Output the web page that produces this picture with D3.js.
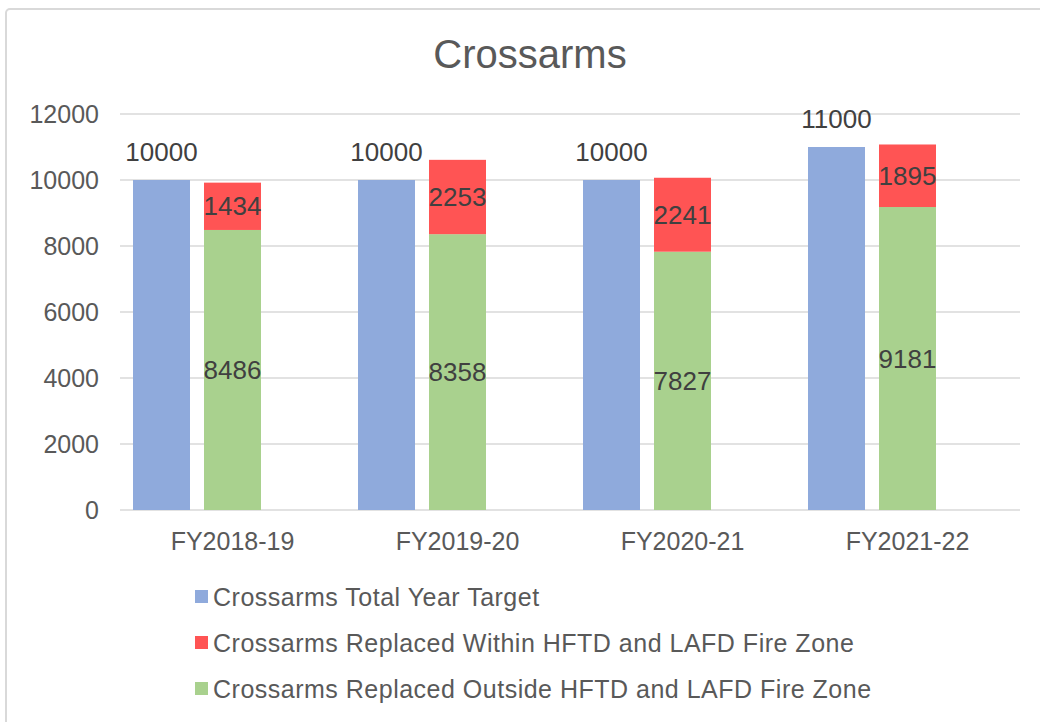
<!DOCTYPE html>
<html>
<head>
<meta charset="utf-8">
<script src="https://cdn.jsdelivr.net/npm/d3@7"></script>
<style>
  html, body { margin: 0; padding: 0; background: #fff; }
  svg { display: block; font-family: "Liberation Sans", Arial, sans-serif; }
</style>
</head>
<body>
<svg id="chart" width="1040" height="722"></svg>
<script>
// Fiscal years on the x axis
const categories = ["FY2018-19", "FY2019-20", "FY2020-21", "FY2021-22"];
// Annual target (standalone bar)
const targetValues = [10000, 10000, 10000, 11000];
// Stacked bar: outside fire zone (bottom) and within fire zone (top)
const outsideValues = [8486, 8358, 7827, 9181];
const withinValues = [1434, 2253, 2241, 1895];
const yTicks = [0, 2000, 4000, 6000, 8000, 10000, 12000];
const seriesNames = [
  "Crossarms Total Year Target",
  "Crossarms Replaced Within HFTD and LAFD Fire Zone",
  "Crossarms Replaced Outside HFTD and LAFD Fire Zone"
];
const colors = ["#8FAADC", "#FF5454", "#A9D18E"];

const svg = d3.select("#chart");
const FONT = "Liberation Sans, Arial, sans-serif";

// Chart frame
svg.append("rect")
  .attr("x", 6).attr("y", 9).attr("width", 1050).attr("height", 720)
  .attr("rx", 4)
  .attr("fill", "#fff").attr("stroke", "#d9d9d9").attr("stroke-width", 2);

svg.append("text")
  .attr("x", 530).attr("y", 68)
  .attr("text-anchor", "middle")
  .attr("font-size", 40).attr("fill", "#595959")
  .text("Crossarms");

const plot = { left: 120, right: 1020, top: 114, bottom: 510 };

const x = d3.scaleBand().domain(categories).range([plot.left, plot.right]);
const y = d3.scaleLinear().domain([0, 12000]).range([plot.bottom, plot.top]);

// Gridlines
svg.append("g")
  .selectAll("line").data(yTicks).join("line")
  .attr("x1", plot.left).attr("x2", plot.right)
  .attr("y1", d => y(d)).attr("y2", d => y(d))
  .attr("stroke", "#d9d9d9").attr("stroke-width", 1.5);

// Y axis labels
const yAxis = d3.axisLeft(y).tickValues(yTicks).tickFormat(d3.format("d")).tickSize(0).tickPadding(0);
const gy = svg.append("g").attr("transform", `translate(${plot.left - 21},0)`).call(yAxis);
gy.select(".domain").remove();
gy.selectAll("text").attr("font-size", 25).attr("fill", "#595959").attr("font-family", FONT);

// X axis labels
const xAxis = d3.axisBottom(x).tickSize(0).tickPadding(0);
const gx = svg.append("g").attr("transform", `translate(0,${plot.bottom + 22})`).call(xAxis);
gx.select(".domain").remove();
gx.selectAll("text").attr("font-size", 25).attr("fill", "#595959").attr("font-family", FONT);

const barW = 57;
const targetOffset = -71;

// Target bars
const center = c => x(c) + x.bandwidth() / 2;
svg.append("g").selectAll("rect").data(categories).join("rect")
  .attr("x", (c) => center(c) + targetOffset - barW / 2)
  .attr("width", barW)
  .attr("y", (c, i) => y(targetValues[i]))
  .attr("height", (c, i) => y(0) - y(targetValues[i]))
  .attr("fill", colors[0]);

// Stacked bars
const stackData = categories.map((c, i) => ({ cat: c, outside: outsideValues[i], within: withinValues[i] }));
const stacked = d3.stack().keys(["outside", "within"])(stackData);
const stackColors = { outside: colors[2], within: colors[1] };

const layers = svg.append("g").selectAll("g").data(stacked).join("g")
  .attr("fill", d => stackColors[d.key]);
layers.selectAll("rect").data(d => d).join("rect")
  .attr("x", d => center(d.data.cat) - barW / 2)
  .attr("width", barW)
  .attr("y", d => y(d[1]))
  .attr("height", d => y(d[0]) - y(d[1]));

const labelStyle = sel => sel.attr("font-size", 26).attr("fill", "#404040")
  .attr("text-anchor", "middle").attr("dominant-baseline", "central");

// Target labels above bars
svg.append("g").selectAll("text").data(categories).join("text")
  .attr("x", c => center(c) + targetOffset)
  .attr("y", (c, i) => y(targetValues[i]) - 28)
  .call(labelStyle)
  .text((c, i) => targetValues[i]);

// Segment labels centred in each segment
stacked.forEach(layer => {
  svg.append("g").selectAll("text").data(layer).join("text")
    .attr("x", d => center(d.data.cat))
    .attr("y", d => (y(d[0]) + y(d[1])) / 2)
    .call(labelStyle)
    .text(d => d[1] - d[0]);
});

// Legend
const legendOrder = [0, 1, 2];
const lg = svg.append("g").selectAll("g").data(legendOrder).join("g")
  .attr("transform", (d, i) => `translate(195,${597 + i * 46})`);
lg.append("rect").attr("x", 0).attr("y", -7).attr("width", 13).attr("height", 13)
  .attr("fill", d => colors[d]);
lg.append("text").attr("x", 18).attr("y", 0)
  .attr("dominant-baseline", "central")
  .attr("font-size", 25).attr("letter-spacing", 0.5).attr("fill", "#595959")
  .text(d => seriesNames[d]);
</script>
</body>
</html>
